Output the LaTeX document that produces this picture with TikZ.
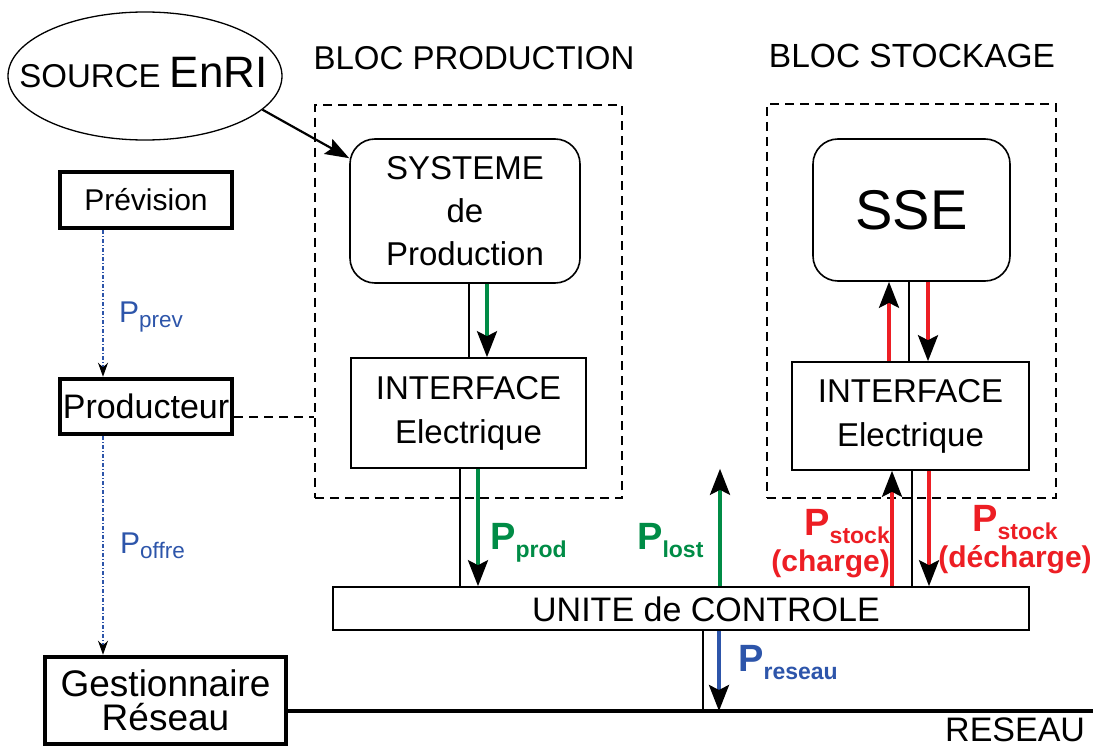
\documentclass[tikz,border=0pt]{standalone}
\usepackage{fontspec}
\setmainfont{Liberation Sans}
\usetikzlibrary{arrows.meta}
\usetikzlibrary{shapes.geometric}
\usetikzlibrary{calc}

\definecolor{vertP}{RGB}{0,140,70}
\definecolor{rougeP}{RGB}{237,30,36}
\definecolor{bleuP}{RGB}{45,85,170}

\newcommand{\fsz}[1]{\fontsize{#1}{#1}\selectfont}
\newcommand{\Pgras}[1]{\textbf{{\fsz{38}P}\raisebox{-8pt}{\fsz{23}#1}}}
\newcommand{\Pfin}[1]{{\fsz{30}P}\raisebox{-5pt}{\fsz{22.5}#1}}

\tikzset{
  boite/.style={draw, line width=1.6pt, inner sep=0pt, align=center},
  rboite/.style={boite, rounded corners=25pt},
  epaisse/.style={draw, line width=4.5pt, inner sep=0pt, align=center},
  bloc/.style={draw, line width=2.7pt, dash pattern=on 9pt off 6pt, inner sep=0pt},
  fil/.style={line width=1.8pt},
  flux/.style={line width=3.5pt, -{Stealth[length=26pt,width=20pt,inset=5pt,color=black]}},
  prevu/.style={bleuP, line width=1.4pt, dash pattern=on 4pt off 2pt on 1pt off 2pt,
    -{Stealth[length=14pt,width=10pt,color=black]}},
}

\begin{document}
\begin{tikzpicture}[x=1pt,y=-1pt]
\useasboundingbox (0,0) rectangle (1101,746);

% blocs en pointilles
\node[bloc, minimum width=307pt, minimum height=393pt] (bprod) at (468.5,301.5) {};
\node[bloc, minimum width=289pt, minimum height=394pt] (bstock) at (911.5,301) {};
\node[font={\fsz{33}}] (tbprod) at (474,58) {BLOC PRODUCTION};
\node[font={\fsz{33.5}}] (tbstock) at (912,56) {BLOC STOCKAGE};

% source
\node[draw, ellipse, line width=1.3pt, inner sep=0pt, minimum width=274pt, minimum height=128pt] (src) at (145,76) {};
\node[anchor=base, inner sep=0pt] (tsrc) at (143.5,88) {{\fsz{33}SOURCE }{\fsz{44}EnRI}};

% production
\node[rboite, minimum width=230pt, minimum height=144pt, font={\fontsize{33}{43}\selectfont}] (sys) at (465,211) {SYSTEME\\de\\Production};
\node[boite, minimum width=235pt, minimum height=110pt, font={\fontsize{33}{44}\selectfont}] (ifp) at (468.5,413) {INTERFACE\\Electrique};

% stockage
\node[rboite, minimum width=197pt, minimum height=142pt, font={\fsz{56}}] (sse) at (911.5,210) {SSE};
\node[boite, minimum width=237pt, minimum height=108pt, font={\fontsize{33}{44}\selectfont}] (ifs) at (910.5,416) {INTERFACE\\Electrique};

% unite de controle
\node[boite, minimum width=696pt, minimum height=43pt] (uc) at (681,608.5) {};
\node[font={\fsz{34}}] (tuc) at (706,609) {UNITE de CONTROLE};

% acteurs
\node[epaisse, minimum width=172pt, minimum height=56pt, font={\fsz{30}}] (prev) at (146,200) {Prévision};
\node[epaisse, minimum width=172pt, minimum height=55pt, font={\fsz{34}}] (prod) at (146,406.5) {Producteur};
\node[epaisse, minimum width=241pt, minimum height=87pt, font={\fontsize{37}{34}\selectfont}] (gest) at (165.5,700.5) {Gestionnaire\\Réseau};

% reseau
\coordinate (res) at (1093,711);
\node[font={\fsz{34}}, anchor=base west, inner sep=0pt] (tres) at (945,741) {RESEAU};

% liaisons
\draw[line width=2.2pt, -{Stealth[length=24pt,width=17pt,inset=4pt]}] (src.-16) -- ([yshift=-20pt]sys.north west);
\draw[fil] ([xshift=4pt]sys.south) -- ([xshift=4pt]sys.south |- ifp.north);
\draw[flux, vertP] ([xshift=22pt]sys.south) -- ([xshift=22pt]sys.south |- ifp.north);
\draw[fil] ([xshift=-8.5pt]ifp.south) -- ([xshift=-8.5pt]ifp.south |- uc.north);
\draw[flux, vertP] ([xshift=9.5pt]ifp.south) -- ([xshift=9.5pt]ifp.south |- uc.north);
\draw[flux, vertP] ([xshift=39pt]uc.north) -- ([xshift=39pt]uc.north |- ifp.south);

\draw[flux, rougeP] ([xshift=-21.5pt]ifs.north) -- ([xshift=-21.5pt]ifs.north |- sse.south);
\draw[fil] ([xshift=-1.5pt]ifs.north) -- ([xshift=-1.5pt]ifs.north |- sse.south);
\draw[flux, rougeP] ([xshift=16.5pt]sse.south) -- ([xshift=16.5pt]sse.south |- ifs.north);
\draw[flux, rougeP] ([xshift=-18.5pt]ifs.south |- uc.north) -- ([xshift=-18.5pt]ifs.south);
\draw[fil] ([xshift=1.5pt]ifs.south) -- ([xshift=1.5pt]ifs.south |- uc.north);
\draw[flux, rougeP] ([xshift=18.5pt]ifs.south) -- ([xshift=18.5pt]ifs.south |- uc.north);

\draw[fil] ([xshift=22pt]uc.south) -- ([xshift=22pt]uc.south |- res);
\draw[flux, bleuP] ([xshift=38pt]uc.south) -- ([xshift=38pt]uc.south |- res);
\draw[line width=3.5pt] (gest.east |- res) -- (res);

\draw[prevu] ([xshift=-43pt]prev.south) -- ([xshift=-43pt]prev.south |- prod.north);
\draw[prevu] ([xshift=-43pt]prod.south) -- ([xshift=-43pt]prod.south |- gest.north);
\draw[line width=2.7pt, dash pattern=on 9pt off 6pt] ([yshift=-10.5pt]prod.east) -- ([yshift=-10.5pt]prod.east -| bprod.west);

% puissances
\node[vertP, anchor=base west, inner sep=0pt] (lprod) at (490,549) {\Pgras{prod}};
\node[vertP, anchor=base west, inner sep=0pt] (llost) at (637,549) {\Pgras{lost}};
\node[bleuP, anchor=base west, inner sep=0pt] (lres) at (738,671) {\Pgras{reseau}};
\node[bleuP, anchor=base west, inner sep=0pt] (lprev) at (119,323) {\Pfin{prev}};
\node[bleuP, anchor=base west, inner sep=0pt] (loffre) at (120,553) {\Pfin{offre}};
\node[rougeP, anchor=north east, inner sep=0pt, align=right, font={\bfseries\fontsize{30}{36}\selectfont}] (lch) at (890,509) {\Pgras{stock}\\(charge)};
\node[rougeP, anchor=north, inner sep=0pt, align=center, font={\bfseries\fontsize{30}{36}\selectfont}] (ldch) at (1015,505) {\Pgras{stock}\\(décharge)};
\end{tikzpicture}
\end{document}
